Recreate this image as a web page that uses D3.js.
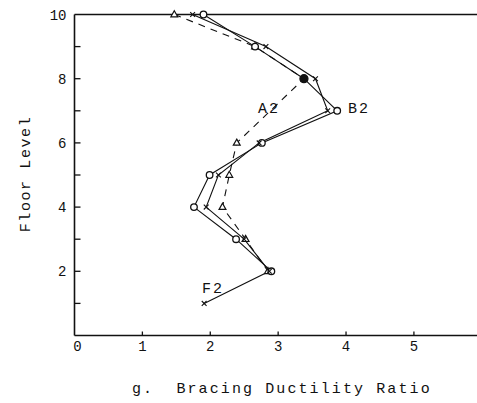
<!DOCTYPE html>
<html>
<head>
<meta charset="utf-8">
<script src="https://cdn.jsdelivr.net/npm/d3@7"></script>
<style>
  html, body { margin: 0; padding: 0; background: #fff; }
  svg { display: block; overflow: hidden; }
  text { font-family: "Liberation Mono", "DejaVu Sans Mono", monospace; fill: #111; }
</style>
</head>
<body>
<svg id="chart" width="477" height="403"></svg>
<script>
// Bracing ductility ratio per floor level for three frames
const floorsA2 = [10, 9, 8, 6, 5, 4, 3, 2];
const ratioA2  = [1.47, 2.66, 3.38, 2.39, 2.28, 2.18, 2.52, 2.85];

const floorsB2 = [10, 9, 8, 7, 6, 5, 4, 3, 2];
const ratioB2  = [1.90, 2.66, 3.38, 3.87, 2.76, 1.99, 1.76, 2.38, 2.90];

const floorsF2 = [10, 9, 8, 7, 6, 5, 4, 3, 2, 1];
const ratioF2  = [1.74, 2.82, 3.55, 3.73, 2.72, 2.12, 1.94, 2.50, 2.87, 1.91];

const xTickValues = [0, 1, 2, 3, 4, 5, 6];
const yTickLabels = [2, 4, 6, 8, 10];
const yMinorTicks = [1, 2, 3, 4, 5, 6, 7, 8, 9];

const seriesNames = ["A2", "B2", "F2"];
const xTitle = "g.  Bracing Ductility Ratio";
const yTitle = "Floor Level";

const svg = d3.select("#chart");

const x = d3.scaleLinear().domain([0, 6]).range([74.5, 481.8]);
const y = d3.scaleLinear().domain([0, 10]).range([335.5, 14.5]);

const ink = "#111";

// axes frame: left, bottom, top
svg.append("line").attr("x1", x(0)).attr("x2", x(0)).attr("y1", y(10)).attr("y2", y(0))
  .attr("stroke", ink).attr("stroke-width", 1.6);
svg.append("line").attr("x1", x(0)).attr("x2", 477).attr("y1", y(0)).attr("y2", y(0))
  .attr("stroke", ink).attr("stroke-width", 1.6);
svg.append("line").attr("x1", x(0)).attr("x2", 477).attr("y1", y(10)).attr("y2", y(10))
  .attr("stroke", ink).attr("stroke-width", 1.4);

// inward ticks on the floor axis
svg.selectAll(".ytick").data(yMinorTicks).join("line")
  .attr("x1", x(0)).attr("x2", x(0) + 6)
  .attr("y1", d => y(d)).attr("y2", d => y(d))
  .attr("stroke", ink).attr("stroke-width", 1.3);

// inward ticks on the ratio axis
svg.selectAll(".xtick").data(xTickValues.filter(d => d > 0 && d < 6)).join("line")
  .attr("x1", d => x(d)).attr("x2", d => x(d))
  .attr("y1", y(0)).attr("y2", y(0) - 4)
  .attr("stroke", ink).attr("stroke-width", 1.3);

// tick labels
svg.selectAll(".ylab").data(yTickLabels).join("text")
  .attr("x", x(0) - 8).attr("y", d => y(d) + 5)
  .attr("text-anchor", "end").attr("font-size", 14)
  .text(d => d);

svg.selectAll(".xlab").data(xTickValues).join("text")
  .attr("x", d => x(d) + (d === 0 ? 3 : 0)).attr("y", y(0) + 15)
  .attr("text-anchor", "middle").attr("font-size", 14)
  .text(d => d);

// axis titles
svg.append("text")
  .attr("x", 132).attr("y", 393)
  .attr("font-size", 15).attr("letter-spacing", 2.1)
  .style("white-space", "pre")
  .text(xTitle);

svg.append("text")
  .attr("transform", "translate(30,174) rotate(-90)")
  .attr("text-anchor", "middle")
  .attr("font-size", 15).attr("letter-spacing", 1.6)
  .text(yTitle);

// series
const series = [
  { name: seriesNames[0], floors: floorsA2, vals: ratioA2, dash: "7,6", marker: "triangle" },
  { name: seriesNames[1], floors: floorsB2, vals: ratioB2, dash: null, marker: "circle" },
  { name: seriesNames[2], floors: floorsF2, vals: ratioF2, dash: null, marker: "cross" }
];

const line = d3.line().x(d => x(d[0])).y(d => y(d[1]));

series.forEach(s => {
  const pts = s.vals.map((v, i) => [v, s.floors[i]]);
  svg.append("path")
    .attr("d", line(pts))
    .attr("fill", "none").attr("stroke", ink).attr("stroke-width", 1.1)
    .attr("stroke-dasharray", s.dash);
  s.pts = pts;
});

series.forEach(s => {
  const g = svg.append("g");
  s.pts.forEach(p => {
    const cx = x(p[0]), cy = y(p[1]);
    if (s.marker === "circle") {
      const filled = p[1] === 8;
      g.append("circle").attr("cx", cx).attr("cy", cy).attr("r", filled ? 4 : 3.3)
        .attr("fill", filled ? ink : "#fff").attr("stroke", ink).attr("stroke-width", 1.3);
    } else if (s.marker === "triangle") {
      if (p[1] === 8) return;
      const r = 3.8;
      g.append("path")
        .attr("d", `M${cx},${cy - r}L${cx + r * 0.9},${cy + r * 0.6}L${cx - r * 0.9},${cy + r * 0.6}Z`)
        .attr("fill", "#fff").attr("stroke", ink).attr("stroke-width", 1.2);
    } else {
      const r = 2.4;
      g.append("path")
        .attr("d", `M${cx - r},${cy - r}L${cx + r},${cy + r}M${cx - r},${cy + r}L${cx + r},${cy - r}`)
        .attr("stroke", ink).attr("stroke-width", 1.1);
    }
  });
});

// series labels
const labelAt = {
  A2: { x: 258, y: 113 },
  B2: { x: 348, y: 113 },
  F2: { x: 202, y: 293 }
};
seriesNames.forEach(n => {
  svg.append("text")
    .attr("x", labelAt[n].x).attr("y", labelAt[n].y)
    .attr("font-size", 15).attr("letter-spacing", 2)
    .text(n);
});
</script>
</body>
</html>
